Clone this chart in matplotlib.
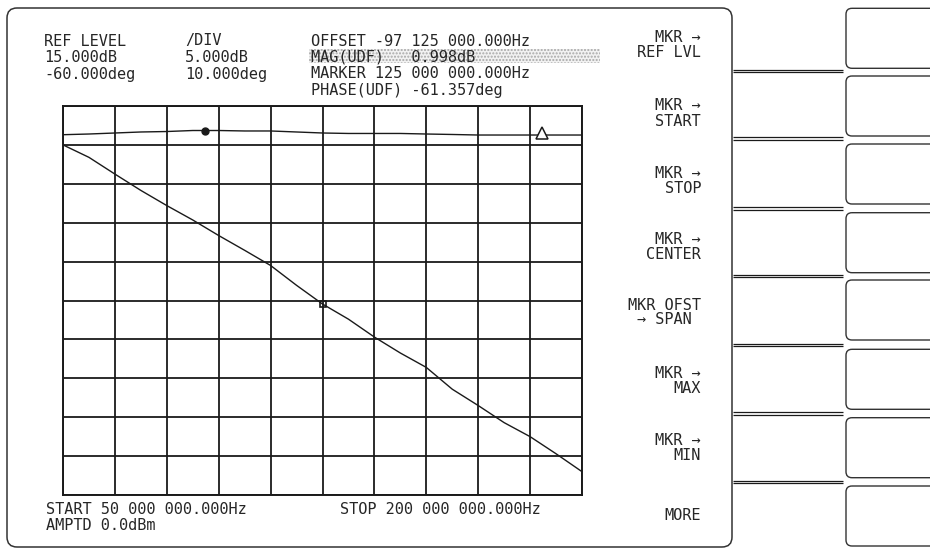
import matplotlib
matplotlib.use("Agg")
import matplotlib.pyplot as plt
from matplotlib.patches import FancyBboxPatch, Rectangle

# ---------------- data ----------------
freq_mhz = [50.0, 57.5, 65.0, 72.5, 80.0, 87.5, 95.0, 102.5, 110.0, 117.5, 125.0,
            132.5, 140.0, 147.5, 155.0, 162.5, 170.0, 177.5, 185.0, 192.5, 200.0]
phase_deg = [-20.0, -23.2, -27.5, -31.7, -35.6, -39.3, -43.3, -47.1, -51.0, -56.1, -60.9,
             -64.8, -69.4, -73.5, -77.2, -82.8, -87.0, -91.4, -95.0, -99.4, -104.0]
mag_db = [36.31, 36.40, 36.53, 36.66, 36.72, 36.85, 36.85, 36.79, 36.79, 36.66, 36.53,
          36.47, 36.47, 36.47, 36.40, 36.34, 36.27, 36.27, 36.27, 36.27, 36.27]

marker_freq = 125.0
marker_phase = -60.9
mag_marker_freq = 91.0
mag_marker_db = 36.85
offset_marker_freq = 188.5
offset_marker_db = 36.27

header_left = ["REF LEVEL", "15.000dB", "-60.000deg"]
header_mid = ["/DIV", "5.000dB", "10.000deg"]
header_right = ["OFFSET -97 125 000.000Hz", "MAG(UDF)   0.998dB",
                "MARKER 125 000 000.000Hz", "PHASE(UDF) -61.357deg"]
footer = ["START 50 000 000.000Hz", "STOP 200 000 000.000Hz", "AMPTD 0.0dBm"]
softkeys = [("MKR →", "REF LVL"), ("MKR →", "START"), ("MKR →", "STOP"),
            ("MKR →", "CENTER"), ("MKR OFST", "→ SPAN"), ("MKR →", "MAX"),
            ("MKR →", "MIN"), ("", "MORE")]

# ---------------- figure ----------------
W, H = 930, 551
fig = plt.figure(figsize=(W / 100, H / 100), dpi=100)
fig.patch.set_facecolor("white")

bg = fig.add_axes([0, 0, 1, 1])
bg.set_xlim(0, W)
bg.set_ylim(H, 0)
bg.axis("off")

ink = "#1a1a1a"
font = dict(family="DejaVu Sans Mono", size=11, color="#262626")

# outer display frame
bg.add_patch(FancyBboxPatch((7, 8), 725, 539, boxstyle="round,pad=0,rounding_size=10",
                            fill=False, ec="#333333", lw=1.1))

# softkey separators (double lines)
for y in [70.7, 138.3, 208.3, 276.0, 345.0, 413.3, 481.7]:
    bg.plot([733, 843], [y - 1, y - 1], color=ink, lw=0.9, solid_capstyle="butt")
    bg.plot([733, 843], [y + 1.2, y + 1.2], color=ink, lw=0.9, solid_capstyle="butt")

# hardware keys on the far right
for top in [8.3, 76.0, 144.0, 212.7, 280.0, 349.3, 417.7, 486.0]:
    bg.add_patch(FancyBboxPatch((846, top), 110, 60, boxstyle="round,pad=0,rounding_size=6",
                                fill=False, ec="#333333", lw=1.0, clip_on=True))

# stippled MAG line background
bg.add_patch(Rectangle((309, 48.5), 291, 14, facecolor="#f2f2f2", edgecolor="#a8a8a8",
                       lw=0, hatch=".....", zorder=0))

# header texts
rows = [41, 57, 74, 91]
for i, t in enumerate(header_left):
    bg.text(44, rows[i], t, va="center", ha="left", **font)
for i, t in enumerate(header_mid):
    bg.text(185, rows[i], t, va="center", ha="left", **font)
for i, t in enumerate(header_right):
    bg.text(311, rows[i], t, va="center", ha="left", **font)

# footer texts
bg.text(46, 509, footer[0], va="center", ha="left", **font)
bg.text(340, 509, footer[1], va="center", ha="left", **font)
bg.text(46, 526, footer[2], va="center", ha="left", **font)

# softkey labels
key_y = [37.3, 106.0, 173.3, 239.3, 305.0, 373.3, 440.7, 508.0]
for (l1, l2), y in zip(softkeys, key_y):
    if l1:
        bg.text(701, y, l1, va="center", ha="right", **font)
        x2 = 692 if l2.startswith("→") else 701
        bg.text(x2, y + 15, l2, va="center", ha="right", **font)
    else:
        bg.text(701, y + 7, l2, va="center", ha="right", **font)

# ---------------- graticule ----------------
gx0, gx1, gy0, gy1 = 63, 582, 106, 495
ax = fig.add_axes([gx0 / W, 1 - gy1 / H, (gx1 - gx0) / W, (gy1 - gy0) / H])
ax.set_xlim(50, 200)
ax.set_ylim(-110, -10)
ax.set_xticks([50 + 15 * i for i in range(11)])
ax.set_yticks([-110 + 10 * i for i in range(11)])
ax.tick_params(length=0, labelbottom=False, labelleft=False)
ax.grid(True, color=ink, lw=1.3)
ax.set_axisbelow(True)
for s in ax.spines.values():
    s.set_color(ink)
    s.set_linewidth(1.4)

ax.plot(freq_mhz, phase_deg, color=ink, lw=1.0, zorder=3)
ax.plot([marker_freq], [marker_phase], marker="s", ms=4.5, mfc="none", mec=ink, mew=1.2,
        zorder=4)

axm = ax.twinx()
axm.set_ylim(-10, 40)
axm.set_yticks([])
axm.axis("off")
axm.plot(freq_mhz, mag_db, color=ink, lw=1.0, zorder=3)
axm.plot([mag_marker_freq], [mag_marker_db], marker="o", ms=5, color=ink, zorder=4)
axm.plot([offset_marker_freq], [offset_marker_db + 0.3], marker="^", ms=9, mfc="white",
         mec=ink, mew=1.1, zorder=4)

fig.savefig("out.png", dpi=100, facecolor="white")
